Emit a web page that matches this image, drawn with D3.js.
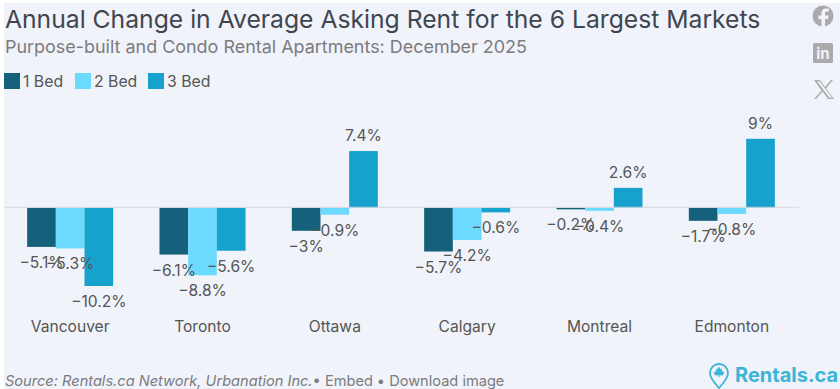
<!DOCTYPE html>
<html>
<head>
<meta charset="utf-8">
<script src="https://cdn.jsdelivr.net/npm/d3@7"></script>
<style>
  html, body { margin: 0; padding: 0; background: #fff; }
  svg { display: block; font-family: Inter, sans-serif; }
</style>
</head>
<body>
<div id="chart"></div>
<script>
const width = 840; const height = 389;

const markets = ["Vancouver", "Toronto", "Ottawa", "Calgary", "Montreal", "Edmonton"];
const series_names = ["1 Bed", "2 Bed", "3 Bed"];
const bed1 = [-5.1, -6.1, -3, -5.7, -0.2, -1.7];
const bed2 = [-5.3, -8.8, -0.9, -4.2, -0.4, -0.8];
const bed3 = [-10.2, -5.6, 7.4, -0.6, 2.6, 9];
const bar_colors = ["#15607a", "#6cd9ff", "#17a2ce"];

const title_text = "Annual Change in Average Asking Rent for the 6 Largest Markets";
const subtitle_text = "Purpose-built and Condo Rental Apartments: December 2025";

let svg = d3.select("#chart")
    .append("svg")
        .attr("width", width)
        .attr("height", height);

// page background, leaves a thin white strip top and left
svg.append("rect")
    .attr("x", 4).attr("y", 3)
    .attr("width", width - 4).attr("height", height - 3)
    .attr("fill", "#f0f3f9");

// title block
svg.append("text")
    .attr("x", 5).attr("y", 28)
    .attr("font-size", 24.7)
    .attr("fill", "#3f4650")
    .text(title_text);
svg.append("text")
    .attr("x", 5).attr("y", 53)
    .attr("font-size", 17.95)
    .attr("fill", "#7b7b80")
    .text(subtitle_text);

// legend
const legend_x = [4, 75, 148];
const legend = svg.append("g").selectAll("g")
    .data(series_names)
    .join("g")
        .attr("transform", (d, i) => `translate(${legend_x[i]}, 73)`);
legend.append("rect")
    .attr("width", 16).attr("height", 16)
    .attr("fill", (d, i) => bar_colors[i]);
legend.append("text")
    .attr("x", 19).attr("y", 13.5)
    .attr("font-size", 15.8)
    .attr("fill", "#555")
    .text(d => d);

// scales
const x_scale = d3.scaleBand()
    .domain(markets)
    .range([4, 798])
    .paddingInner(0.35)
    .paddingOuter(0.175);
const x_inner = d3.scaleBand()
    .domain(series_names)
    .range([0, x_scale.bandwidth()]);
const y_scale = d3.scaleLinear()
    .domain([-10.2, 9])
    .range([286, 138.8]);

const rows = markets.map((m, i) => ({market: m, values: [bed1[i], bed2[i], bed3[i]]}));

// bars
const groups = svg.append("g").selectAll("g")
    .data(rows)
    .join("g")
        .attr("transform", d => `translate(${x_scale(d.market)}, 0)`);
groups.selectAll("rect")
    .data(d => d.values)
    .join("rect")
        .attr("x", (d, i) => x_inner(series_names[i]))
        .attr("y", d => y_scale(Math.max(d, 0)))
        .attr("width", x_inner.bandwidth())
        .attr("height", d => Math.abs(y_scale(d) - y_scale(0)))
        .attr("fill", (d, i) => bar_colors[i]);

// zero line
svg.append("line")
    .attr("x1", 4).attr("x2", 799)
    .attr("y1", y_scale(0) - 0.5).attr("y2", y_scale(0) - 0.5)
    .attr("stroke", "#d6d9dc");

// value labels
const fmt = d => (d < 0 ? "\u2212" + (-d) : d) + "%";
groups.selectAll("text")
    .data(d => d.values)
    .join("text")
        .attr("x", (d, i) => x_inner(series_names[i]) + x_inner.bandwidth() / 2)
        .attr("y", d => d < 0 ? y_scale(d) + 21 : y_scale(d) - 10)
        .attr("text-anchor", "middle")
        .attr("font-size", 15.6)
        .attr("fill", "#555")
        .text(fmt);

// category labels
const x_axis = d3.axisBottom(x_scale).tickSize(0).tickPadding(0);
const x_g = svg.append("g")
    .attr("transform", "translate(0, 321)")
    .call(x_axis);
x_g.select(".domain").remove();
x_g.selectAll("text")
    .attr("font-family", "Inter, sans-serif")
    .attr("font-size", 15.6)
    .attr("fill", "#555");

// footer
const footer = svg.append("text")
    .attr("x", 5).attr("y", 386)
    .attr("font-size", 14.6)
    .attr("fill", "#7b7b80");
footer.append("tspan").attr("font-style", "italic").text("Source: Rentals.ca Network, Urbanation Inc.");
footer.append("tspan").attr("dx", 0).text("\u2022 Embed");
footer.append("tspan").attr("dx", 4).text("\u2022 Download image");

// share icons
const icons = svg.append("g").attr("fill", "#aaaaaa");
icons.append("circle").attr("cx", 823).attr("cy", 16).attr("r", 10.5);
icons.append("path")
    .attr("fill", "#f0f3f9")
    .attr("d", "M825 27v-8h3l.6-3.4H825v-2c0-1.2.5-2 2-2h1.8V8.6c-.8-.1-1.8-.2-2.7-.2-3 0-4.7 1.7-4.7 4.7v2.5h-3V19h3v8z");
icons.append("rect").attr("x", 813).attr("y", 43).attr("width", 20).attr("height", 20).attr("rx", 1.5);
icons.append("text")
    .attr("x", 823).attr("y", 59)
    .attr("text-anchor", "middle")
    .attr("font-size", 15)
    .attr("font-weight", 700)
    .attr("fill", "#f0f3f9")
    .text("in");
icons.append("path")
    .attr("d", "M814 80h6l5 7 6-7h2l-7 8.500 8 10.500h-6l-5.500-7.400-6.500 7.400h-2l7.500-8.500zm3 1.200l12.500 16.600h2.500l-12.500-16.600z");

// logo
const logo = svg.append("g").attr("fill", "#3cb4d8");
logo.append("path")
    .attr("fill", "none")
    .attr("stroke", "#3cb4d8")
    .attr("stroke-width", 1.8)
    .attr("d", "M719 388c-4-4.500-9-9.500-9-15a9 9 0 0 1 18 0c0 5.500-5 10.500-9 15z");
logo.append("path")
    .attr("d", "M719 366.500l1.500 2.800 1.500-.7-.4 3 1.400-.6.5 1.400 1.300.2-1.700 2-.4.9-3.200-.3v2h-1v-2l-3.200.3-.4-.9-1.700-2 1.300-.2.500-1.400 1.400.6-.4-3 1.500.7z");
logo.append("text")
    .attr("x", 735).attr("y", 382)
    .attr("font-size", 20)
    .attr("font-weight", 700)
    .text("Rentals.ca");
</script>
</body>
</html>
